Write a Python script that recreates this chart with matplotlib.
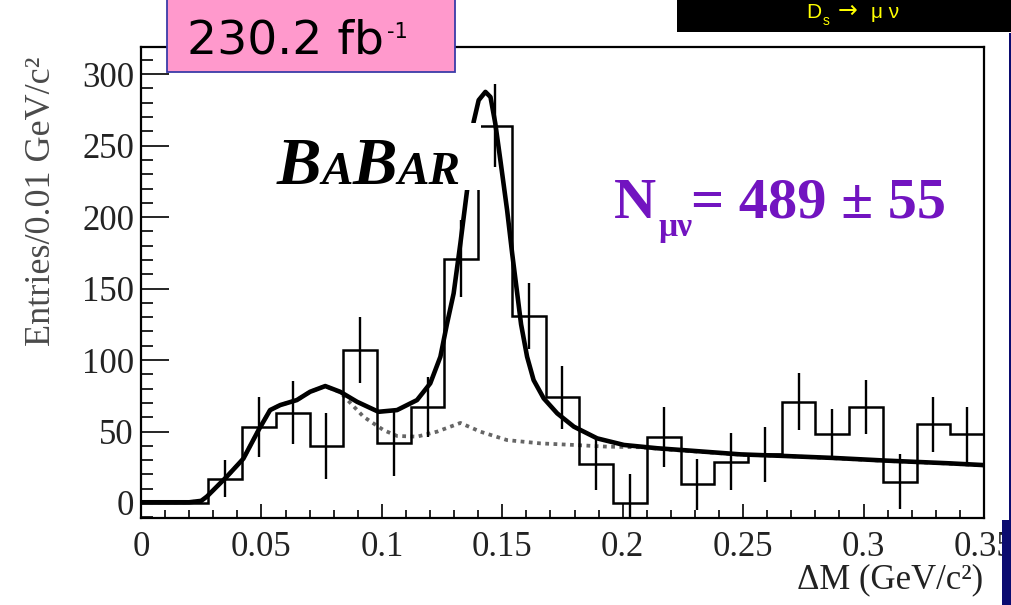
import numpy as np
import matplotlib
matplotlib.use("Agg")
import matplotlib.pyplot as plt
from matplotlib.patches import Rectangle
from matplotlib.ticker import MultipleLocator

# histogram: 25 bins from 0 to 0.35 GeV/c^2
counts = [0, 0, 17, 53, 63, 40, 107, 42, 67, 171, 264, 131, 74, 27, 0,
          46, 13, 29, 34, 71, 48, 67, 15, 55, 48]
errors = [0, 0, 13, 21, 22, 23, 23, 23, 21, 27, 29, 23, 22, 18, 20,
          21, 18, 20, 19, 20, 18, 19, 19, 19, 19]

# total fit (solid)
fit_x = [0.0, 0.020, 0.025, 0.0273, 0.0356, 0.0425, 0.0488, 0.0536, 0.0578,
         0.0647, 0.0702, 0.0765, 0.0827, 0.0897, 0.0986, 0.1063, 0.1146,
         0.1201, 0.1243, 0.1270, 0.1298, 0.1326, 0.1354, 0.1381, 0.1402,
         0.1430, 0.1451, 0.1471, 0.1492, 0.1520, 0.1541, 0.1562, 0.1578,
         0.1603, 0.1630, 0.1672, 0.1728, 0.1797, 0.1894, 0.2005, 0.2143,
         0.2282, 0.2490, 0.2656, 0.2877, 0.3100, 0.3350, 0.3500]
fit_y = [0.5, 0.5, 1.5, 4.4, 18.4, 31, 51, 65, 68.5,
         72, 77.8, 81.8, 77.8, 70.8, 63.8, 65, 72,
         83.7, 102.3, 125, 146.6, 181.6, 219, 266.6, 281.8,
         287.6, 284, 265.5, 239.9, 204.9, 174.6, 146.6, 125,
         102.3, 86, 73.2, 62.7, 53.4, 45.2, 40.6, 38.3,
         36.6, 34, 33, 31.5, 29.6, 27.8, 26.5]

# background component (dotted)
bkg_x = [0.0, 0.020, 0.025, 0.0273, 0.0356, 0.0425, 0.0488, 0.0536, 0.0578,
         0.0647, 0.0702, 0.0765, 0.0827, 0.0924, 0.1007, 0.1063, 0.1146,
         0.1229, 0.1326, 0.1409, 0.1520, 0.1658, 0.1797, 0.1936, 0.2074,
         0.2212, 0.2490, 0.2656, 0.2877, 0.3100, 0.3350, 0.3500]
bkg_y = [0.5, 0.5, 1.5, 4.4, 18.4, 31, 51, 65, 68.5,
         72, 77.8, 81.8, 77.5, 60.3, 51, 46.9, 46.4,
         49.9, 56, 49.9, 44, 41.7, 40.6, 39.4, 39,
         37.1, 33.8, 33, 31.3, 29.4, 27.6, 26.3]

W, H = 1012, 605


def px(x, y):
    # pixel position (from top-left) -> figure fraction
    return x / W, 1 - y / H


fig = plt.figure(figsize=(W / 100, H / 100), dpi=100)
ax = fig.add_axes([141 / W, (H - 518) / H, (984 - 141) / W, (518 - 47) / H])

edges = np.linspace(0, 0.35, len(counts) + 1)
centers = 0.5 * (edges[:-1] + edges[1:])

ax.plot(bkg_x, bkg_y, color="#666666", lw=2.7, ls=(0, (1.0, 1.2)), zorder=2)
ax.plot(fit_x, fit_y, color="black", lw=3.3, zorder=3)
ax.stairs(counts, edges, baseline=None, color="black", lw=1.8, zorder=4)
ax.errorbar(centers, counts, yerr=errors, fmt="none", ecolor="black",
            elinewidth=1.7, capsize=0, zorder=4)

ax.set_xlim(0, 0.35)
ax.set_ylim(-10.5, 319)
ax.xaxis.set_minor_locator(MultipleLocator(0.01))
ax.yaxis.set_major_locator(MultipleLocator(50))
ax.yaxis.set_minor_locator(MultipleLocator(10))
ax.set_xticks([0, 0.05, 0.1, 0.15, 0.2, 0.25, 0.3, 0.35])
ax.set_xticklabels(["0", "0.05", "0.1", "0.15", "0.2", "0.25", "0.3", "0.35"])

ax.tick_params(axis="x", which="major", direction="in", length=10, width=1.2, pad=9)
ax.tick_params(axis="x", which="minor", direction="in", length=6, width=1.2)
ax.tick_params(axis="y", which="major", direction="in", length=20, width=1.2, pad=5)
ax.tick_params(axis="y", which="minor", direction="in", length=8.5, width=1.2)
for lab in ax.get_xticklabels() + ax.get_yticklabels():
    lab.set_fontfamily("Liberation Serif")
    lab.set_fontsize(25)
    lab.set_color("#222222")
for sp in ax.spines.values():
    sp.set_linewidth(1.6)

serif = "Liberation Serif"
fig.text(*px(42, 201), "Entries/0.01 GeV/c²", rotation=90, ha="center",
         va="center", fontsize=26, family=serif, color="#4a4a4a")
fig.text(*px(983, 580), "ΔM (GeV/c²)", ha="right", va="center",
         fontsize=25, family=serif, color="#222222")

# BABAR logo on a white patch
fig.add_artist(Rectangle(px(270, 190), 211 / W, 67 / H, transform=fig.transFigure,
                         facecolor="white", edgecolor="none", zorder=5))
renderer = fig.canvas.get_renderer()
x0 = 277
for s, fs in [("B", 48), ("A", 34), ("B", 48), ("AR", 34)]:
    t = fig.text(*px(x0, 184), s, fontsize=fs, family=serif, weight="bold",
                 style="italic", va="baseline", ha="left", zorder=6)
    x0 += t.get_window_extent(renderer).width

# signal yield
purple = "#7214C0"
fig.text(*px(614, 218), "N", fontsize=42, family=serif, weight="bold",
         color=purple, va="baseline", zorder=6)
fig.text(*px(659, 236), "μν", fontsize=24, family=serif, weight="bold",
         color=purple, va="baseline", zorder=6)
fig.text(*px(691, 218), "= 489 ± 55", fontsize=42, family=serif, weight="bold",
         color=purple, va="baseline", zorder=6)

# luminosity label
fig.add_artist(Rectangle(px(167, 72), (455 - 167) / W, 80 / H, transform=fig.transFigure,
                         facecolor="#FF99CC", edgecolor="#3B3BA8", lw=1.3, zorder=5))
fig.text(*px(187, 53), "230.2 fb", fontsize=34, family="DejaVu Sans",
         va="baseline", zorder=6)
fig.text(*px(387, 38), "-1", fontsize=15, family="DejaVu Sans",
         va="baseline", zorder=6)

# title strip at top right
fig.add_artist(Rectangle(px(677, 31.5), (W - 677) / W, 40 / H, transform=fig.transFigure,
                         facecolor="black", edgecolor="none", zorder=5))
yellow = "#FFFF00"
fig.text(*px(806, 18), "D", fontsize=15, family="Liberation Sans",
         color=yellow, va="baseline", zorder=6)
fig.text(*px(823, 25), "s", fontsize=10, family="Liberation Sans",
         color=yellow, va="baseline", zorder=6)
fig.text(*px(838, 18), "→", fontsize=17, family="DejaVu Sans",
         color=yellow, va="baseline", zorder=6)
fig.text(*px(871, 18), "μ ν", fontsize=15, family="Liberation Sans",
         color=yellow, va="baseline", zorder=6)

# slide border on the right
fig.add_artist(Rectangle(px(1009, 520), 3 / W, 487 / H, transform=fig.transFigure,
                         facecolor="#0B0B70", edgecolor="none", zorder=7))
fig.add_artist(Rectangle(px(1002, 605), 10 / W, 85 / H, transform=fig.transFigure,
                         facecolor="#0B0B70", edgecolor="none", zorder=7))

fig.savefig("out.png", dpi=100)
